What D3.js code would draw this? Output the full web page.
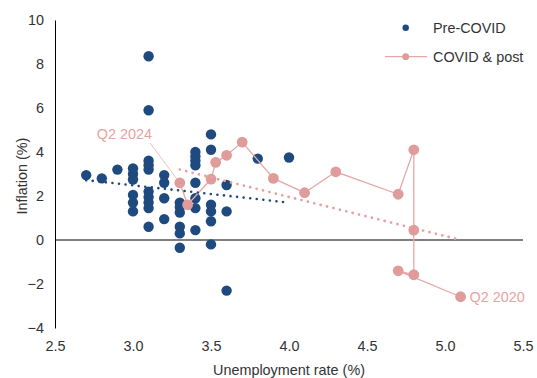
<!DOCTYPE html>
<html>
<head>
<meta charset="utf-8">
<script src="https://cdn.jsdelivr.net/npm/d3@7/dist/d3.min.js"></script>
<style>
  html, body { margin: 0; padding: 0; background: #fff; }
  svg { display: block; font-family: "Liberation Sans", Arial, sans-serif; }
</style>
</head>
<body>
<svg id="chart" width="537" height="378"></svg>
<script>
// Pre-COVID quarters: unemployment rate (%) and inflation (%)
const preUnemp = [2.7, 2.8, 2.9,
  3.0, 3.0, 3.0, 3.0, 3.0, 3.0,
  3.1, 3.1, 3.1, 3.1, 3.1, 3.1, 3.1, 3.1, 3.1, 3.1,
  3.2, 3.2, 3.2, 3.2,
  3.3, 3.3, 3.3, 3.3, 3.3, 3.3,
  3.4, 3.4, 3.4, 3.4, 3.4, 3.4, 3.4, 3.4,
  3.5, 3.5, 3.5, 3.5, 3.5, 3.5,
  3.6, 3.6, 3.6,
  3.8, 4.0];
const preInfl = [2.95, 2.8, 3.2,
  3.25, 3.0, 2.75, 2.05, 1.7, 1.3,
  8.35, 5.9, 3.6, 3.4, 3.2, 2.2, 1.95, 1.7, 1.45, 0.6,
  2.95, 2.6, 1.9, 0.95,
  1.7, 1.5, 1.25, 0.6, 0.3, -0.35,
  4.0, 3.8, 3.6, 3.4, 2.6, 1.9, 1.45, 0.45,
  4.8, 4.1, 1.6, 1.3, 0.85, -0.2,
  2.5, 1.3, -2.3,
  3.7, 3.75];

// COVID & post quarters, in time order from Q2 2020 to Q2 2024
const postUnemp = [5.1, 4.7, 4.8, 4.8, 4.8, 4.7, 4.3, 4.1, 3.9, 3.7, 3.6, 3.53, 3.5, 3.35, 3.3];
const postInfl  = [-2.58, -1.4, -1.58, 0.45, 4.1, 2.08, 3.1, 2.15, 2.8, 4.45, 3.85, 3.53, 2.77, 1.6, 2.6];

// Linear trend lines (start/end)
const preTrendX = [2.7, 4.0];
const preTrendY = [2.72, 1.7];
const postTrendX = [3.3, 5.1];
const postTrendY = [3.2, 0.0];

const xTicks = [2.5, 3.0, 3.5, 4.0, 4.5, 5.0, 5.5];
const yTicks = [-4, -2, 0, 2, 4, 6, 8, 10];

const seriesNames = ["Pre-COVID", "COVID & post"];
const labelFirst = "Q2 2020";
const labelLast = "Q2 2024";

const BLUE = "#1F4A7F";
const PINK = "#E09C9A";
const PINK_LINE = "#E6A8A6";
const TEXT = "#333333";
const FS = 14.4;

const svg = d3.select("#chart");
const x = d3.scaleLinear().domain([2.5, 5.5]).range([55, 523]);
const y = d3.scaleLinear().domain([-4, 10]).range([328, 20]);

// Y axis
const yAxis = svg.append("g").attr("transform", `translate(${x(2.5)},0)`)
  .call(d3.axisLeft(y).tickValues(yTicks).tickSize(0).tickPadding(11).tickFormat(d3.format("d")));
yAxis.select(".domain").attr("stroke", "#000").attr("stroke-width", 1);
yAxis.selectAll("text").attr("font-size", FS).attr("fill", TEXT)
  .attr("font-family", "Liberation Sans, Arial, sans-serif");

// X axis (labels low)
const xAxis = svg.append("g").attr("transform", `translate(0,${y(-4)})`)
  .call(d3.axisBottom(x).tickValues(xTicks).tickSize(0).tickPadding(13).tickFormat(d3.format(".1f")));
xAxis.select(".domain").remove();
xAxis.selectAll("text").attr("font-size", FS).attr("fill", TEXT)
  .attr("font-family", "Liberation Sans, Arial, sans-serif");

// Zero line
svg.append("line")
  .attr("x1", x(2.5)).attr("x2", x(5.5))
  .attr("y1", y(0)).attr("y2", y(0))
  .attr("stroke", "#000").attr("stroke-width", 1);

// Axis titles
svg.append("text")
  .attr("transform", `translate(22,${176}) rotate(-90)`)
  .attr("text-anchor", "middle").attr("dy", "0.35em")
  .attr("font-size", FS).attr("fill", TEXT)
  .text("Inflation (%)");
svg.append("text")
  .attr("x", 289).attr("y", 370).attr("dy", "0.35em")
  .attr("text-anchor", "middle")
  .attr("font-size", FS).attr("fill", TEXT)
  .text("Unemployment rate (%)");

// Pre-COVID points
const preData = preUnemp.map((u, i) => ({u, v: preInfl[i]}));
svg.append("g").selectAll("circle").data(preData).enter().append("circle")
  .attr("cx", d => x(d.u)).attr("cy", d => y(d.v)).attr("r", 5.2)
  .attr("fill", BLUE);

// COVID & post line + points
const postData = postUnemp.map((u, i) => ({u, v: postInfl[i]}));
const line = d3.line().x(d => x(d.u)).y(d => y(d.v));
svg.append("path").datum(postData)
  .attr("d", line).attr("fill", "none")
  .attr("stroke", PINK_LINE).attr("stroke-width", 1.3);
svg.append("g").selectAll("circle").data(postData).enter().append("circle")
  .attr("cx", d => x(d.u)).attr("cy", d => y(d.v)).attr("r", 5.4)
  .attr("fill", PINK);

// Trend lines (round-dot)
function trend(xs, ys, color, w) {
  svg.append("line")
    .attr("x1", x(xs[0])).attr("y1", y(ys[0]))
    .attr("x2", x(xs[1])).attr("y2", y(ys[1]))
    .attr("stroke", color).attr("stroke-width", w)
    .attr("stroke-linecap", "round")
    .attr("stroke-dasharray", "0 6.6");
}
trend(preTrendX, preTrendY, BLUE, 2.6);
trend(postTrendX, postTrendY, "#E4A2A0", 2.8);

// Annotations
const last = postData[postData.length - 1];
const first = postData[0];
svg.append("line")
  .attr("x1", 150).attr("y1", 143)
  .attr("x2", x(last.u) - 3).attr("y2", y(last.v) - 4)
  .attr("stroke", "#F0C0BE").attr("stroke-width", 1);
svg.append("text")
  .attr("x", 152).attr("y", 134).attr("dy", "0.35em")
  .attr("text-anchor", "end").attr("font-size", FS).attr("fill", "#E5A3A1")
  .text(labelLast);
svg.append("text")
  .attr("x", x(first.u) + 9).attr("y", y(first.v)).attr("dy", "0.35em")
  .attr("font-size", FS).attr("fill", "#E5A3A1")
  .text(labelFirst);

// Legend
const lg = svg.append("g");
lg.append("circle").attr("cx", 405.7).attr("cy", 27.7).attr("r", 3.2).attr("fill", BLUE);
lg.append("text").attr("x", 433).attr("y", 27.7).attr("dy", "0.35em")
  .attr("font-size", FS).attr("fill", TEXT).text(seriesNames[0]);
lg.append("line").attr("x1", 385).attr("x2", 427).attr("y1", 56.7).attr("y2", 56.7)
  .attr("stroke", PINK_LINE).attr("stroke-width", 1.3);
lg.append("circle").attr("cx", 405.7).attr("cy", 56.7).attr("r", 3.4).attr("fill", PINK);
lg.append("text").attr("x", 433).attr("y", 56.7).attr("dy", "0.35em")
  .attr("font-size", FS).attr("fill", TEXT).text(seriesNames[1]);
</script>
</body>
</html>
